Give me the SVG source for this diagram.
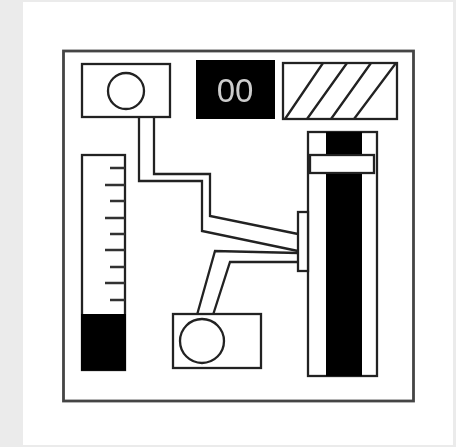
<svg xmlns="http://www.w3.org/2000/svg" width="456" height="447" viewBox="0 0 456 447">
<style>
.s{fill:none;stroke:#222;stroke-width:2.300}
.w{fill:#fff;stroke:#222;stroke-width:2.300}
.k{fill:#000}
.t{fill:none;stroke:#333;stroke-width:2.300}
</style>
<defs><filter id="soft" filterUnits="userSpaceOnUse" x="0" y="0" width="456" height="447"><feGaussianBlur stdDeviation="0.55"/></filter></defs>
<rect width="456" height="447" fill="#ebebeb"/>
<rect x="23" y="2" width="430" height="443" fill="#fff"/>
<g filter="url(#soft)">
<rect id="frame" x="63.500" y="51" width="350" height="350" class="s" style="stroke:#444;stroke-width:2.800"/>
<g id="connectors">
<path class="s" d="M139 117V181H202V231L298 251"/>
<path class="s" d="M154 117V174H210V216L298 234"/>
<path class="s" d="M197 315L215 251L298 253"/>
<path class="s" d="M213 315L230 262H298"/>
</g>
<g id="sensor-top">
<rect x="82" y="64" width="88" height="53" class="w"/>
<circle cx="126" cy="91" r="18" class="w"/>
</g>
<g id="display">
<rect x="196" y="60" width="79" height="59" class="k"/>
<text x="235" y="102" text-anchor="middle" font-family="'Liberation Sans',Arial,sans-serif" font-size="33" fill="#ccc">00</text>
</g>
<g id="hatched">
<rect x="283" y="63" width="114" height="56" class="w"/>
<path class="s" d="M285 119L323 63M307 119L347 63M331 119L371 63M354 119L396 63"/>
</g>
<g id="gauge">
<rect x="82" y="155" width="43" height="215" class="w"/>
<rect x="81" y="314" width="45" height="56.500" class="k"/>
<path class="t" d="M110 168H125M105 185H125M110 201H125M105 218H125M110 234H125M105 250H125M110 267H125M105 283H125M110 300H125"/>
</g>
<g id="column">
<rect x="308" y="132" width="69" height="244" class="w"/>
<rect x="326" y="132" width="36" height="244" class="k"/>
<rect x="310" y="155" width="64" height="18" class="w"/>
</g>
<g id="manifold">
<rect x="298" y="212" width="10" height="59" class="w"/>
</g>
<g id="sensor-bottom">
<rect x="173" y="314" width="88" height="54" class="w"/>
<circle cx="202" cy="341" r="22" class="w"/>
</g>
</g>
</svg>
